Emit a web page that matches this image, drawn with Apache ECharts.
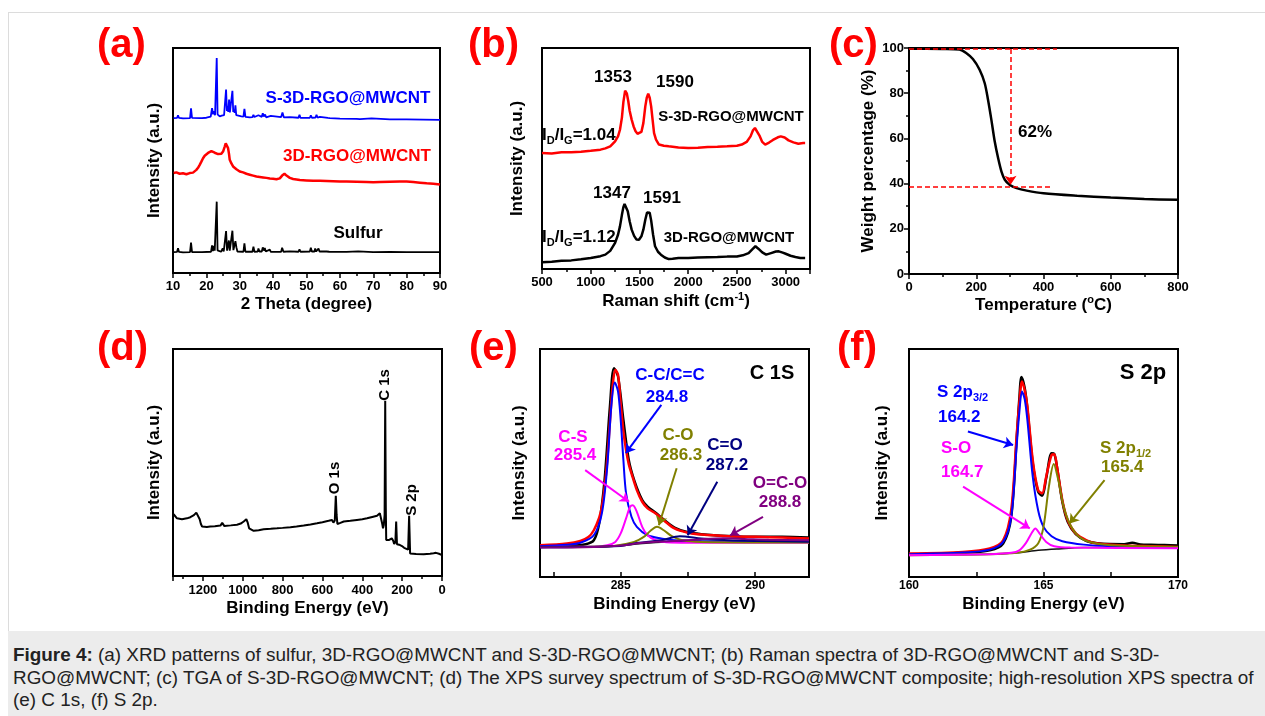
<!DOCTYPE html>
<html>
<head>
<meta charset="utf-8">
<title>Figure 4</title>
<script src="https://cdn.jsdelivr.net/npm/echarts@6/dist/echarts.min.js"></script>
<style>
  body { margin: 0; background: #fff; font-family: "Liberation Sans", Arial, sans-serif; }
  #frame { position: absolute; left: 8px; top: 12px; width: 1300px; height: 620px; border: 1px solid #dcdcdc; box-sizing: border-box; }
  #caption { position: absolute; left: 8px; top: 631px; width: 1300px; height: 85px; background: #ececec; }
  #caption p { margin: 0; position: absolute; left: 5px; top: 13px; font-size: 18.9px; line-height: 22.5px; color: #222; white-space: nowrap; }
  #chart { position: absolute; left: 0; top: 0; width: 1265px; height: 631px; }
</style>
</head>
<body>
<div id="frame"></div>
<div id="caption"><p><b>Figure 4:</b> (a) XRD patterns of sulfur, 3D-RGO@MWCNT and S-3D-RGO@MWCNT; (b) Raman spectra of 3D-RGO@MWCNT and S-3D-<br>RGO@MWCNT; (c) TGA of S-3D-RGO@MWCNT; (d) The XPS survey spectrum of S-3D-RGO@MWCNT composite; high-resolution XPS spectra of<br>(e) C 1s, (f) S 2p.</p></div>
<div id="chart"></div>
<script>
// (a) XRD, [2theta, intensity a.u.]
var sulfurXRD = [[10.2,10.7],[11.2,10.8],[11.5,12.4],[11.8,10.8],[13,10.6],[15.1,10.7],[15.4,14.9],[15.7,10.7],[18,10.7],[18.4,11.3],[18.7,10.7],[21.4,10.9],[21.7,13.7],[21.95,11.2],[22.2,13.4],[22.5,11.4],[22.9,11.2],[23.1,32.8],[23.35,11.5],[24.4,10.9],[24.9,12.4],[25.2,11],[25.6,11.2],[25.9,19.9],[26.2,11.4],[26.5,11.6],[26.75,15.8],[27.0,11.4],[27.5,11.8],[27.8,20.1],[28.1,11.6],[28.45,12],[28.7,15.5],[29.0,12.8],[29.3,11],[31.1,10.9],[31.4,14.6],[31.7,10.9],[33.8,10.9],[34.1,13.1],[34.4,10.9],[35.4,11],[35.6,12.3],[35.9,11],[36.6,11],[36.9,12.8],[37.2,11.4],[37.5,12.5],[37.8,11],[39.0,11.8],[39.3,10.8],[42.4,10.9],[42.7,12.6],[43.1,10.9],[45.0,11.1],[47.6,10.9],[47.9,12.0],[48.2,10.9],[51.0,11],[51.3,12.7],[51.6,11],[52.4,11],[52.6,12.3],[52.9,11],[53.4,11],[53.6,12.3],[53.9,11],[55.4,11],[55.6,11.7],[56.0,11],[56.5,11.8],[56.8,10.9],[58,10.8],[62,10.8],[65.5,11.1],[66,10.7],[70,10.7],[75,10.8],[80,10.7],[85,10.7],[90,10.7]];
var s3dXRD = [[10.2,69.3],[11.2,69.4],[11.5,70.5],[11.8,69.4],[13,69.2],[15.1,69.3],[15.4,73.6],[15.7,69.4],[18,69.3],[18.4,69.9],[18.7,69.3],[20,69.5],[21.3,70.0],[21.7,73.7],[22.0,71.0],[22.3,72.3],[22.6,70.6],[22.9,70.8],[23.1,95.6],[23.35,71.0],[24.0,70.1],[24.6,70.4],[25.0,70.8],[25.3,70.6],[25.6,70.9],[25.9,81.8],[26.15,72.5],[26.4,74.5],[26.55,72.0],[26.8,77.4],[27.05,71.8],[27.35,72.3],[27.55,71.5],[27.8,81.3],[28.05,72.0],[28.3,73.0],[28.5,71.6],[28.7,74.9],[28.95,70.6],[29.3,70.5],[30.5,70.1],[31.1,70.0],[31.4,73.4],[31.7,69.9],[33,69.7],[33.8,69.8],[34.1,70.8],[34.4,69.8],[35.6,70.6],[35.9,69.8],[36.6,69.9],[36.9,71.5],[37.2,70.0],[37.6,70.9],[37.9,69.7],[39.3,70.3],[39.6,69.5],[42.4,69.8],[42.8,71.8],[43.2,69.7],[45,69.8],[47.6,69.5],[47.9,70.8],[48.2,69.4],[51.0,69.5],[51.3,70.5],[51.6,69.5],[52.7,69.6],[53.0,70.8],[53.3,69.6],[54,69.9],[56.4,69.4],[56.6,70.2],[57,69.3],[60,69.1],[65,69.0],[65.5,69.4],[66,68.9],[69.5,69.2],[75,68.8],[80,68.8],[85,68.7],[90,68.6]];
var rgoXRD = [[10.2,45.3],[11,45.6],[12,45.0],[13,45.2],[14,44.8],[15,45.3],[16,45.5],[16.5,46.0],[17,46.7],[17.5,47.6],[18,48.9],[18.5,50.3],[19,51.8],[19.5,52.9],[20,53.7],[20.5,54.1],[21,54.3],[21.5,54.9],[22,54.7],[22.5,54.2],[23,54.0],[23.5,53.6],[24,53.3],[24.5,53.8],[25,54.7],[25.5,56.9],[25.8,58.3],[26.1,57.8],[26.5,56.2],[26.8,53.5],[27,51.1],[27.5,49.5],[28,48.2],[29,47.0],[30,46.0],[31,45.6],[32,45.0],[33,44.6],[34,44.2],[35,43.8],[36,43.6],[37,43.4],[38,43.2],[39,42.9],[40,42.8],[41,42.6],[42,43.0],[42.7,44.2],[43.4,45.0],[44,44.2],[45,43.2],[46,42.7],[47,42.5],[48,42.3],[50,42.1],[52,41.9],[54,41.9],[56,41.8],[58,41.7],[60,41.6],[62,41.6],[65,41.5],[68,41.4],[70,41.3],[72,41.4],[75,41.5],[78,41.6],[80,41.6],[82,41.4],[84,41.1],[86,40.8],[88,40.6],[90,40.3]];

// (b) Raman, [shift cm-1, intensity]
var ramanS3D = [[500,52.5],[600,52.3],[700,52.8],[800,52.8],[900,53.1],[1000,53.5],[1100,54.0],[1150,54.6],[1200,55.5],[1250,57.8],[1280,60],[1300,63.0],[1320,68.5],[1335,75.5],[1353,80.7],[1370,79.5],[1385,76.0],[1400,71.5],[1420,67.6],[1440,64.5],[1460,62.3],[1480,61.2],[1500,60.8],[1520,62.0],[1540,66.0],[1560,73.6],[1575,77.5],[1590,79.3],[1605,77.5],[1620,73.6],[1635,67.5],[1650,61.5],[1670,58.5],[1700,56.3],[1750,55.8],[1800,55.5],[1900,55.0],[2000,54.8],[2100,54.9],[2200,55.2],[2300,55.3],[2400,55.5],[2500,55.8],[2550,56.3],[2600,57.5],[2640,60.0],[2665,62.8],[2685,63.8],[2705,63.0],[2730,60.5],[2760,57.5],[2790,56.3],[2830,57.2],[2870,58.4],[2920,59.6],[2950,60.0],[2990,59.5],[3030,58.2],[3080,57.3],[3130,56.7],[3180,57.0],[3200,57.0]];
var ramanRGO = [[500,3.0],[600,3.3],[700,3.7],[800,3.9],[900,4.4],[1000,5.0],[1100,5.8],[1150,6.5],[1200,8.2],[1250,11.8],[1280,15.5],[1300,19.3],[1320,24.5],[1335,28.0],[1347,29.4],[1360,29.0],[1380,26.1],[1400,21.5],[1420,17.8],[1445,15.0],[1470,13.3],[1495,13.2],[1520,14.8],[1540,17.8],[1560,22.3],[1578,25.6],[1591,26.5],[1605,25.5],[1620,22.0],[1640,15.5],[1660,10.3],[1690,7.8],[1720,6.5],[1760,5.2],[1800,4.5],[1820,3.8],[1840,4.6],[1900,5.0],[2000,5.0],[2100,5.2],[2200,5.3],[2300,5.4],[2400,5.6],[2500,5.7],[2560,6.2],[2620,7.2],[2660,9.0],[2690,10.3],[2720,9.2],[2760,7.5],[2800,6.5],[2850,7.2],[2900,7.9],[2930,8.0],[2970,7.4],[3000,6.9],[3050,6.0],[3100,5.4],[3150,5.0],[3200,5.0]];

// (c) TGA, [temperature C, weight %]
var tgaCurve = [[0,99.7],[50,99.7],[100,99.6],[150,99.3],[170,97.8],[190,95.1],[210,90.4],[225,84.5],[235,77.1],[245,68.2],[255,58.6],[265,51.3],[275,45.3],[285,41.7],[300,39.4],[320,38.0],[350,36.9],[400,35.7],[500,34.6],[600,33.8],[700,33.2],[800,32.8]];
var tgaStart = 99.6, tgaEnd = 38.7, tgaMarkT = 302;

// (d) XPS survey, [binding energy eV, intensity]
var surveyXPS = [[1347,27.2],[1330,25.4],[1305,25.0],[1280,25.4],[1263,25.9],[1245,26.8],[1233,27.9],[1224,28.1],[1216,25.0],[1210,22.9],[1204,21.8],[1180,21.6],[1163,21.8],[1140,21.9],[1112,22.2],[1103,23.4],[1099,23.0],[1092,22.0],[1060,22.3],[1029,22.6],[1010,23.1],[995,24.0],[982,25.0],[975,23.5],[968,21.0],[960,20.2],[945,19.9],[920,20.2],[895,20.6],[860,20.8],[828,21.0],[800,21.2],[761,21.5],[730,21.8],[694,22.2],[660,22.7],[627,23.2],[600,23.7],[569,24.3],[552,24.7],[545,23.5],[538,24.5],[533,35.3],[529,27.0],[525,22.9],[510,23.4],[493,24.0],[460,24.3],[427,24.7],[400,25.0],[376,25.4],[350,26.0],[326,26.5],[312,27.6],[305,27.3],[300,23.0],[296,21.0],[292,22.5],[288,27.0],[285,77.2],[282,30.0],[280,15.9],[265,15.9],[252,16.6],[245,15.5],[240,14.1],[234,15.0],[230,24.0],[226,14.0],[215,13.8],[201,13.2],[190,12.4],[184,11.8],[170,11.6],[165,26.5],[160,9.9],[156,9.7],[130,9.7],[92,9.6],[60,9.8],[42,10.0],[30,10.2],[25,10.6],[15,9.8],[8,9.3],[0,9.2]];

// (e) C 1s, [binding energy eV, intensity]
var c1sRaw = [[282,13.2],[283,13.6],[283.7,14.4],[284,16.1],[284.2,23.5],[284.4,42.5],[284.6,74.8],[284.75,91.6],[284.9,88.0],[285.1,68.9],[285.3,51.3],[285.5,42.5],[285.8,33.7],[286,30.8],[286.3,28.2],[286.6,25.2],[287,21.7],[287.5,19.6],[288,18.8],[289,18.0],[290,17.6],[291,17.6],[292,17.3]];
var c1sEnvelope = [[282,13.9],[283,14.7],[283.5,15.8],[283.8,17.5],[284,20.5],[284.2,26],[284.3,30.8],[284.4,39],[284.5,51.3],[284.6,68],[284.7,83.6],[284.8,90.9],[284.9,88.7],[285,76.2],[285.1,64],[285.2,55.7],[285.3,49.5],[285.4,45.5],[285.6,38.1],[285.8,33.0],[286,30.1],[286.3,27.9],[286.6,24.9],[287,21.3],[287.5,19.4],[288,18.6],[289,17.9],[290,17.6],[291,17.3],[292,16.9]];
var c1sCC = [[282,13.5],[283,14.1],[283.5,15.0],[284,18.3],[284.3,27.9],[284.5,48.4],[284.65,74.8],[284.78,85.3],[284.9,81.4],[285,68.9],[285.1,51.3],[285.2,36.7],[285.4,26.4],[285.6,22.0],[286,18.3],[286.5,16.9],[287,16.1],[288,15.7],[290,15.5],[292,15.4]];
var c1sCS = [[282,13.2],[284,13.3],[284.5,13.9],[284.8,15.4],[285,19.1],[285.2,25.7],[285.35,30.8],[285.45,31.5],[285.6,28.6],[285.8,22.0],[286,18.3],[286.3,16.1],[286.7,15.2],[287.5,15.0],[292,15.0]];
var c1sCO = [[282,13.2],[284.5,13.5],[285.5,15.4],[285.9,17.9],[286.1,20.2],[286.35,22.0],[286.6,20.5],[286.9,17.9],[287.3,16.1],[288,15.4],[292,15.1]];
var c1sCdO = [[282,13.0],[285,13.6],[285.5,14.7],[286.5,16.1],[287.2,17.9],[288,16.9],[289,16.1],[290,15.8],[292,15.5]];
var c1sOCO = [[282,12.9],[284,13.2],[285,13.8],[285.8,15.0],[287,15.8],[288,16.6],[288.8,17.0],[289.6,16.7],[290.5,16.3],[292,16.1]];
var c1sBg = [[282,13.0],[284.5,13.3],[285.5,14.4],[286.5,15.2],[288,15.7],[292,16.0]];
var c1sTicks = [282.5, 285, 287.5, 290];
var c1sLabels = [285, 290];

// (f) S 2p, [binding energy eV, intensity]
var s2pRaw = [[160,10.0],[162,10.6],[163,11.7],[163.5,14.7],[163.8,26.4],[164,60.1],[164.1,78],[164.18,87.7],[164.3,83],[164.4,74.0],[164.6,49.9],[164.8,37.4],[164.95,35.6],[165.1,43.3],[165.3,54.3],[165.4,54.0],[165.5,48.4],[165.7,33.0],[165.9,24.2],[166.2,18.8],[166.6,15.8],[167,14.8],[168,14.4],[168.3,15.0],[168.6,14.3],[169,14.1],[169.5,14.0],[170,13.8]];
var s2pEnvelope = [[160,10.3],[162,11.0],[163,12.5],[163.5,16.1],[163.8,29.3],[164,61.6],[164.1,76],[164.2,85.8],[164.3,82],[164.4,74.8],[164.6,51.3],[164.8,38.1],[164.95,36.7],[165.1,44.0],[165.3,53.5],[165.4,53.8],[165.5,48.4],[165.7,33.7],[165.9,24.9],[166.2,19.1],[166.6,16.1],[167,14.7],[168,13.8],[169,13.5],[170,13.2]];
var s2p32 = [[160,10.0],[162,10.7],[163,12.0],[163.5,15.4],[163.8,26.4],[164,57.2],[164.1,72],[164.2,81.4],[164.3,78],[164.4,68.9],[164.6,44.0],[164.8,29.3],[165,22.0],[165.3,17.9],[165.7,15.7],[166.5,14.2],[167.5,13.5],[170,12.9]];
var s2p12 = [[160,9.5],[163,10.0],[164,10.6],[164.5,12.0],[164.8,14.7],[165,22.0],[165.2,39.6],[165.38,49.6],[165.55,42.5],[165.75,30.8],[166,22.7],[166.3,17.9],[166.7,15.4],[167.5,13.9],[170,13.2]];
var s2pSO = [[160,9.5],[163,10.0],[163.8,10.6],[164.1,11.7],[164.35,15.0],[164.55,19.1],[164.7,21.3],[164.85,19.1],[165.1,15.4],[165.4,13.5],[166,12.9],[170,12.6]];
var s2pBg = [[160,9.8],[163,10.0],[164,10.6],[164.8,11.7],[165.5,12.3],[166.5,12.9],[170,13.2]];
var s2pTicks = [160, 162.5, 165, 167.5, 170];
var s2pLabels = [160, 165, 170];

var FONT = '"Liberation Sans", Arial, sans-serif';
var BLUE = '#0000ff', RED = '#ff0000', MAG = '#ff00ff', OLIVE = '#808000', NAVY = '#000080', PURPLE = '#800080';

function plain(v) { return String(v); }

function grid(l, t, w, h) {
  return { left: l, top: t, width: w, height: h, show: true, borderColor: '#000', borderWidth: 2 };
}

function axis(gi, min, max) {
  return {
    type: 'value', gridIndex: gi, min: min, max: max,
    splitLine: { show: false },
    axisLine: { show: false },
    axisTick: { show: false },
    axisLabel: { show: false },
    nameLocation: 'middle',
    nameTextStyle: { color: '#000', fontWeight: 'bold', fontSize: 17, fontFamily: FONT, lineHeight: 20,
      rich: { sup: { fontSize: 11, fontWeight: 'bold', fontFamily: FONT, color: '#000', lineHeight: 10, verticalAlign: 'top' } } }
  };
}

function ticks(ax, interval, margin, showMax) {
  ax.interval = interval;
  ax.axisTick = { show: true, length: 5, lineStyle: { color: '#000', width: 1.5 } };
  ax.minorTick = { show: true, splitNumber: 2, length: 3, lineStyle: { color: '#000', width: 1.5 } };
  ax.axisLabel = { show: true, color: '#000', fontWeight: 'bold', fontSize: 13, fontFamily: FONT, margin: margin,
    showMaxLabel: showMax, showMinLabel: true, formatter: plain };
  return ax;
}

function customTicks(ax, tickVals, labelVals) {
  ax.axisTick = { show: true, inside: true, length: 5, customValues: tickVals, lineStyle: { color: '#000', width: 1.5 } };
  ax.axisLabel = { show: true, color: '#000', fontWeight: 'bold', fontSize: 12, fontFamily: FONT, margin: 3,
    customValues: labelVals, formatter: plain };
  return ax;
}

function named(ax, name, gap, rotate) {
  ax.name = name; ax.nameGap = gap;
  if (rotate) ax.nameRotate = 90;
  return ax;
}

function line(i, data, color, width, smooth) {
  return {
    type: 'line', xAxisIndex: i, yAxisIndex: i, data: data,
    symbol: 'none', showSymbol: false, smooth: smooth || false,
    lineStyle: { color: color, width: width || 2 }, itemStyle: { color: color },
    silent: true, animation: false
  };
}

function arrows(list) {
  return {
    silent: true, symbol: ['none', 'arrow'], symbolSize: 9, label: { show: false }, animation: false,
    data: list.map(function (a) {
      var ls = { color: a[4], width: 2, type: 'solid' };
      return [{ coord: [a[0], a[1]], lineStyle: ls, itemStyle: { color: a[4] } },
              { coord: [a[2], a[3]], lineStyle: ls, itemStyle: { color: a[4] } }];
    })
  };
}

function txt(x, y, text, color, size, align, rot) {
  return {
    type: 'text', x: x, y: y, rotation: rot || 0, z: 100, silent: true,
    style: { text: text, fill: color, font: 'bold ' + size + 'px ' + FONT, align: align || 'center', verticalAlign: 'middle' }
  };
}

function richTxt(x, y, text, color, size, subSize, align) {
  return {
    type: 'text', x: x, y: y, z: 100, silent: true,
    style: {
      text: text, fill: color, font: 'bold ' + size + 'px ' + FONT, align: align || 'left', verticalAlign: 'middle',
      rich: {
        m: { fill: color, fontSize: size, fontWeight: 'bold', fontFamily: FONT, lineHeight: 22 },
        s: { fill: color, fontSize: subSize, fontWeight: 'bold', fontFamily: FONT, lineHeight: 11, verticalAlign: 'bottom' }
      }
    }
  };
}

var tgaSeries = line(2, tgaCurve, '#000', 2.5, 0.3);
tgaSeries.markLine = {
  silent: true, symbol: ['none', 'arrow'], symbolSize: 9, label: { show: false }, animation: false,
  lineStyle: { color: RED, width: 1.5, type: [5, 3] },
  data: [
    [{ coord: [0, tgaStart], symbol: 'none' }, { coord: [440, tgaStart], symbol: 'none' }],
    [{ coord: [0, tgaEnd], symbol: 'none' }, { coord: [424, tgaEnd], symbol: 'none' }],
    [{ coord: [tgaMarkT, tgaStart] }, { coord: [tgaMarkT, tgaEnd + 0.8], itemStyle: { color: RED } }]
  ]
};

var c1sSeries = line(4, c1sOCO, PURPLE, 2, 0.3);
c1sSeries.markLine = arrows([
  [286.51, 75.5, 285.19, 54.3, BLUE],
  [283.68, 46.9, 285.31, 33.0, MAG],
  [287.08, 47.7, 286.42, 22.7, OLIVE],
  [288.59, 41.8, 287.49, 18.3, NAVY],
  [290.29, 26.4, 289.07, 18.3, PURPLE]
]);
var s2pSeries = line(5, s2pSO, MAG, 2, 0.3);
s2pSeries.markLine = arrows([
  [162.19, 63.8, 163.87, 57.9, BLUE],
  [162.01, 39.6, 164.49, 21.3, MAG],
  [167.27, 42.5, 165.97, 23.5, OLIVE]
]);

var xA = named(ticks(axis(0, 10, 90), 10, 7, true), '2 Theta (degree)', 20);
var xB = named(ticks(axis(1, 500, 3250), 500, 7, false), 'Raman shift (cm{sup|-1})', 22);
var xC = named(ticks(axis(2, 0, 800), 200, 7, true), 'Temperature ({sup|o}C)', 20);
var xD = named(ticks(axis(3, 0, 1350), 200, 8, false), 'Binding Energy (eV)', 19);
xD.inverse = true;
var xE = named(customTicks(axis(4, 282, 292), c1sTicks, c1sLabels), 'Binding Energy (eV)', 17);
var xF = named(customTicks(axis(5, 160, 170), s2pTicks, s2pLabels), 'Binding Energy (eV)', 17);

var yA = named(axis(0, 1.6, 100), 'Intensity (a.u.)', 9, true);
var yB = named(axis(1, 0, 100), 'Intensity (a.u.)', 15, true);
var yC = named(ticks(axis(2, 0, 100), 20, 5, true), 'Weight percentage (%)', 30, true);
var yD = named(axis(3, 0, 100), 'Intensity (a.u.)', 9, true);
var yE = named(axis(4, 0, 100), 'Intensity (a.u.)', 11, true);
var yF = named(axis(5, 0, 100), 'Intensity (a.u.)', 17, true);

var option = {
  animation: false,
  grid: [grid(173, 48, 267, 225), grid(542, 48, 268, 221), grid(909, 48, 269, 226),
         grid(173, 349, 269, 227), grid(540, 349, 269, 228), grid(909, 349, 269, 228)],
  xAxis: [xA, xB, xC, xD, xE, xF],
  yAxis: [yA, yB, yC, yD, yE, yF],
  series: [
    line(0, sulfurXRD, '#000', 1.8),
    line(0, rgoXRD, RED, 2.5),
    line(0, s3dXRD, BLUE, 1.8),
    line(1, ramanS3D, RED, 2.5),
    line(1, ramanRGO, '#000', 2.5),
    tgaSeries,
    line(3, surveyXPS, '#000', 2),
    line(4, c1sRaw, '#000', 2.5, 0.3),
    line(4, c1sEnvelope, RED, 2.5, 0.3),
    line(4, c1sBg, '#222', 1.5, 0.3),
    line(4, c1sCC, BLUE, 2, 0.3),
    line(4, c1sCS, MAG, 2, 0.3),
    line(4, c1sCO, OLIVE, 2, 0.3),
    line(4, c1sCdO, NAVY, 2, 0.3),
    c1sSeries,
    line(5, s2pRaw, '#000', 2.5, 0.3),
    line(5, s2pEnvelope, RED, 2.5, 0.3),
    line(5, s2pBg, '#111', 1.5, 0.3),
    line(5, s2p32, BLUE, 2, 0.3),
    line(5, s2p12, OLIVE, 2, 0.3),
    s2pSeries
  ],
  graphic: [
    txt(97, 46, '(a)', RED, 40, 'left'),
    txt(468, 46, '(b)', RED, 40, 'left'),
    txt(829, 46, '(c)', RED, 40, 'left'),
    txt(97, 349, '(d)', RED, 40, 'left'),
    txt(469, 349, '(e)', RED, 40, 'left'),
    txt(837, 349, '(f)', RED, 40, 'left'),

    txt(348, 98, 'S-3D-RGO@MWCNT', BLUE, 17),
    txt(357, 156, '3D-RGO@MWCNT', RED, 17),
    txt(358, 233, 'Sulfur', '#000', 17),

    txt(613, 77, '1353', '#000', 17),
    txt(675, 82, '1590', '#000', 17),
    txt(731, 117, 'S-3D-RGO@MWCNT', '#000', 15),
    richTxt(542, 135, '{m|I}{s|D}{m|/I}{s|G}{m|=1.04}', '#000', 17, 11),
    txt(612, 193, '1347', '#000', 17),
    txt(662, 198, '1591', '#000', 17),
    txt(729, 238, '3D-RGO@MWCNT', '#000', 15),
    richTxt(542, 237, '{m|I}{s|D}{m|/I}{s|G}{m|=1.12}', '#000', 17, 11),

    txt(1035, 132, '62%', '#000', 17),

    txt(385, 385, 'C 1s', '#000', 15, 'center', Math.PI / 2),
    txt(335, 478, 'O 1s', '#000', 15, 'center', Math.PI / 2),
    txt(412, 500, 'S 2p', '#000', 15, 'center', Math.PI / 2),

    txt(772, 373, 'C 1S', '#000', 20),
    txt(670, 375, 'C-C/C=C', BLUE, 17),
    txt(667, 397, '284.8', BLUE, 17),
    txt(573, 437, 'C-S', MAG, 17),
    txt(575, 455, '285.4', MAG, 17),
    txt(678, 435, 'C-O', OLIVE, 17),
    txt(681, 455, '286.3', OLIVE, 17),
    txt(725, 445, 'C=O', NAVY, 17),
    txt(727, 465, '287.2', NAVY, 17),
    txt(780, 483, 'O=C-O', PURPLE, 17),
    txt(780, 502, '288.8', PURPLE, 17),

    txt(1143, 373, 'S 2p', '#000', 22),
    richTxt(937, 392, '{m|S 2p}{s|3/2}', BLUE, 17, 11),
    txt(938, 417, '164.2', BLUE, 17, 'left'),
    txt(941, 448, 'S-O', MAG, 17, 'left'),
    txt(941, 472, '164.7', MAG, 17, 'left'),
    richTxt(1100, 448, '{m|S 2p}{s|1/2}', OLIVE, 17, 11),
    txt(1101, 467, '165.4', OLIVE, 17, 'left')
  ]
};

var chart = echarts.init(document.getElementById('chart'), null, { renderer: 'canvas' });
chart.setOption(option);
</script>
</body>
</html>
